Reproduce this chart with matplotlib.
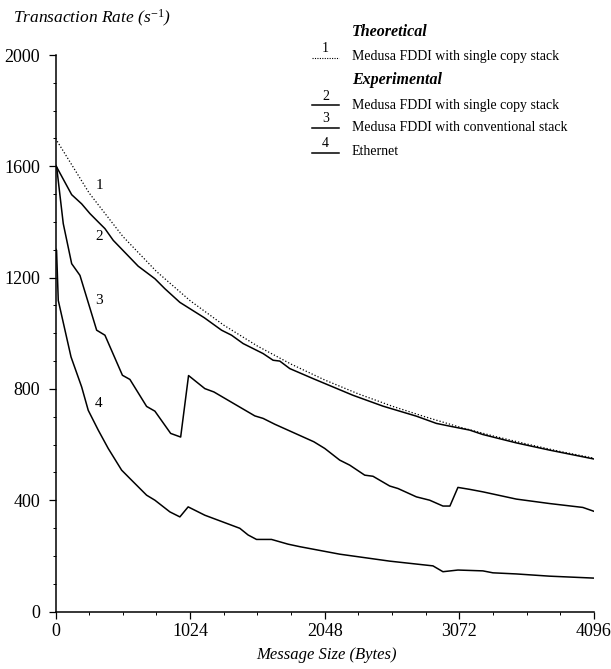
'''Transaction rate vs message size (Medusa FDDI / Ethernet)'''

import matplotlib
matplotlib.use('Agg')
from matplotlib import pyplot as plt
from matplotlib.lines import Line2D
from matplotlib.ticker import MultipleLocator

##########################################
# data

# theoretical, single copy stack (curve 1)
theo_x = [0, 256, 512, 768, 1024, 1280, 1536, 1792, 2048, 2304, 2560, 2816,
          3072, 3328, 3584, 3840, 4096]
theo_y = [1700, 1504, 1348, 1222, 1117, 1029, 954, 889, 832, 782, 738, 699,
          663, 631, 602, 575, 551]

# experimental, single copy stack (curve 2)
single_x = [0, 123, 199, 262, 325, 376, 439, 629, 756, 832, 946, 1131, 1263,
            1339, 1427, 1579, 1655, 1706, 1782, 1959, 2111, 2263, 2491, 2745,
            2897, 3000, 3150, 3251, 3505, 3758, 4096]
single_y = [1605, 1498, 1465, 1430, 1400, 1376, 1334, 1241, 1196, 1160, 1111,
            1056, 1011, 993, 963, 927, 903, 900, 873, 837, 807, 777, 738, 702,
            676, 666, 652, 636, 606, 580, 548]

# experimental, conventional stack (curve 3)
conv_x = [0, 9, 59, 123, 186, 313, 376, 509, 566, 693, 756, 876, 952, 1012,
          1136, 1205, 1516, 1579, 1668, 1965, 2048, 2162, 2238, 2352, 2415,
          2542, 2605, 2745, 2846, 2947, 3000, 3061, 3150, 3251, 3505, 3758,
          4011, 4096]
conv_y = [1600, 1597, 1394, 1250, 1208, 1011, 993, 849, 834, 737, 720, 640,
          627, 848, 801, 789, 703, 694, 673, 610, 586, 544, 526, 490, 486,
          451, 442, 412, 400, 379, 379, 446, 439, 430, 404, 388, 374, 360]

# ethernet (curve 4)
eth_x = [0, 8, 21, 118, 199, 249, 325, 401, 503, 566, 693, 756, 870, 946,
         1009, 1136, 1402, 1465, 1529, 1643, 1769, 1858, 2162, 2542, 2871,
         2947, 3061, 3251, 3327, 3505, 3758, 4096]
eth_y = [1304, 1298, 1118, 915, 807, 723, 652, 586, 508, 478, 418, 400, 358,
         340, 376, 346, 299, 275, 259, 259, 242, 233, 206, 181, 164, 143, 149,
         146, 139, 135, 127, 120]

x_ticks = [0, 1024, 2048, 3072, 4096]
y_ticks = [0, 400, 800, 1200, 1600, 2000]

legend_num = ['1', '2', '3', '4']
legend_txt = ['Medusa FDDI with single copy stack',
              'Medusa FDDI with single copy stack',
              'Medusa FDDI with conventional stack',
              'Ethernet']

##########################################

serif = ['Liberation Serif', 'DejaVu Serif']
plt.rcParams['font.family'] = serif
plt.rcParams['mathtext.fontset'] = 'custom'
plt.rcParams['mathtext.rm'] = 'Liberation Serif'
plt.rcParams['mathtext.it'] = 'Liberation Serif:italic'
plt.rcParams['mathtext.default'] = 'it'

W, H = 611, 669
fig = plt.figure(figsize=(W/100, H/100), dpi=100)
ax = fig.add_axes([55.5/W, 1-611.5/H, (594-55.5)/W, (611.5-55)/H])

ax.plot(theo_x, theo_y, color='black', lw=0.9, ls=(0, (1, 1.6)))
ax.plot(single_x, single_y, color='black', lw=1.1)
ax.plot(conv_x, conv_y, color='black', lw=1.1)
ax.plot(eth_x, eth_y, color='black', lw=1.1)

# curve numbers
for lab, yy in zip(legend_num, [1531, 1348, 1118, 748]):
  ax.text(331, yy, lab, fontsize=11, ha='center', va='center')

ax.set_xlim(0, 4096)
ax.set_ylim(0, 2000)
ax.set_xticks(x_ticks)
ax.set_yticks(y_ticks)
ax.xaxis.set_minor_locator(MultipleLocator(256))
ax.yaxis.set_minor_locator(MultipleLocator(100))
ax.tick_params(which='major', direction='out', length=5, width=0.9,
               labelsize=13, pad=3)
ax.tick_params(axis='y', which='major', pad=6)
ax.tick_params(which='minor', direction='out', length=2, width=0.7)
for s in ['top', 'right']:
  ax.spines[s].set_visible(False)
for s in ['left', 'bottom']:
  ax.spines[s].set_linewidth(1.1)

fig.text(12.7/W, 1-18.3/H, 'Transaction Rate (s$^{-1}$)', fontsize=12.5,
         style='italic', ha='left', va='center')
fig.text(326/W, 1-655/H, 'Message Size (Bytes)', fontsize=12,
         style='italic', ha='center', va='center')

# hand made legend
fig.text(351.7/W, 1-32.3/H, 'Theoretical', fontsize=11.5, style='italic',
         weight='bold', ha='left', va='center')
fig.text(351.7/W, 1-80/H, 'Experimental', fontsize=11.5, style='italic',
         weight='bold', ha='left', va='center')
num_y = [48.3, 96, 119, 143.3]
line_y = [58.3, 105.3, 127.7, 152.7]
txt_y = [56.7, 105, 127.7, 151.7]
for i in range(4):
  fig.text(325.7/W, 1-num_y[i]/H, legend_num[i], fontsize=10,
           ha='center', va='center')
  ls = (0, (1, 1.2)) if i == 0 else '-'
  lw = 0.8 if i == 0 else 1.1
  fig.add_artist(Line2D([312/W, 339/W], [1-line_y[i]/H, 1-line_y[i]/H],
                        color='black', lw=lw, ls=ls))
  fig.text(351.7/W, 1-txt_y[i]/H, legend_txt[i], fontsize=10,
           ha='left', va='center')

fig.savefig('out.png', dpi=100)
